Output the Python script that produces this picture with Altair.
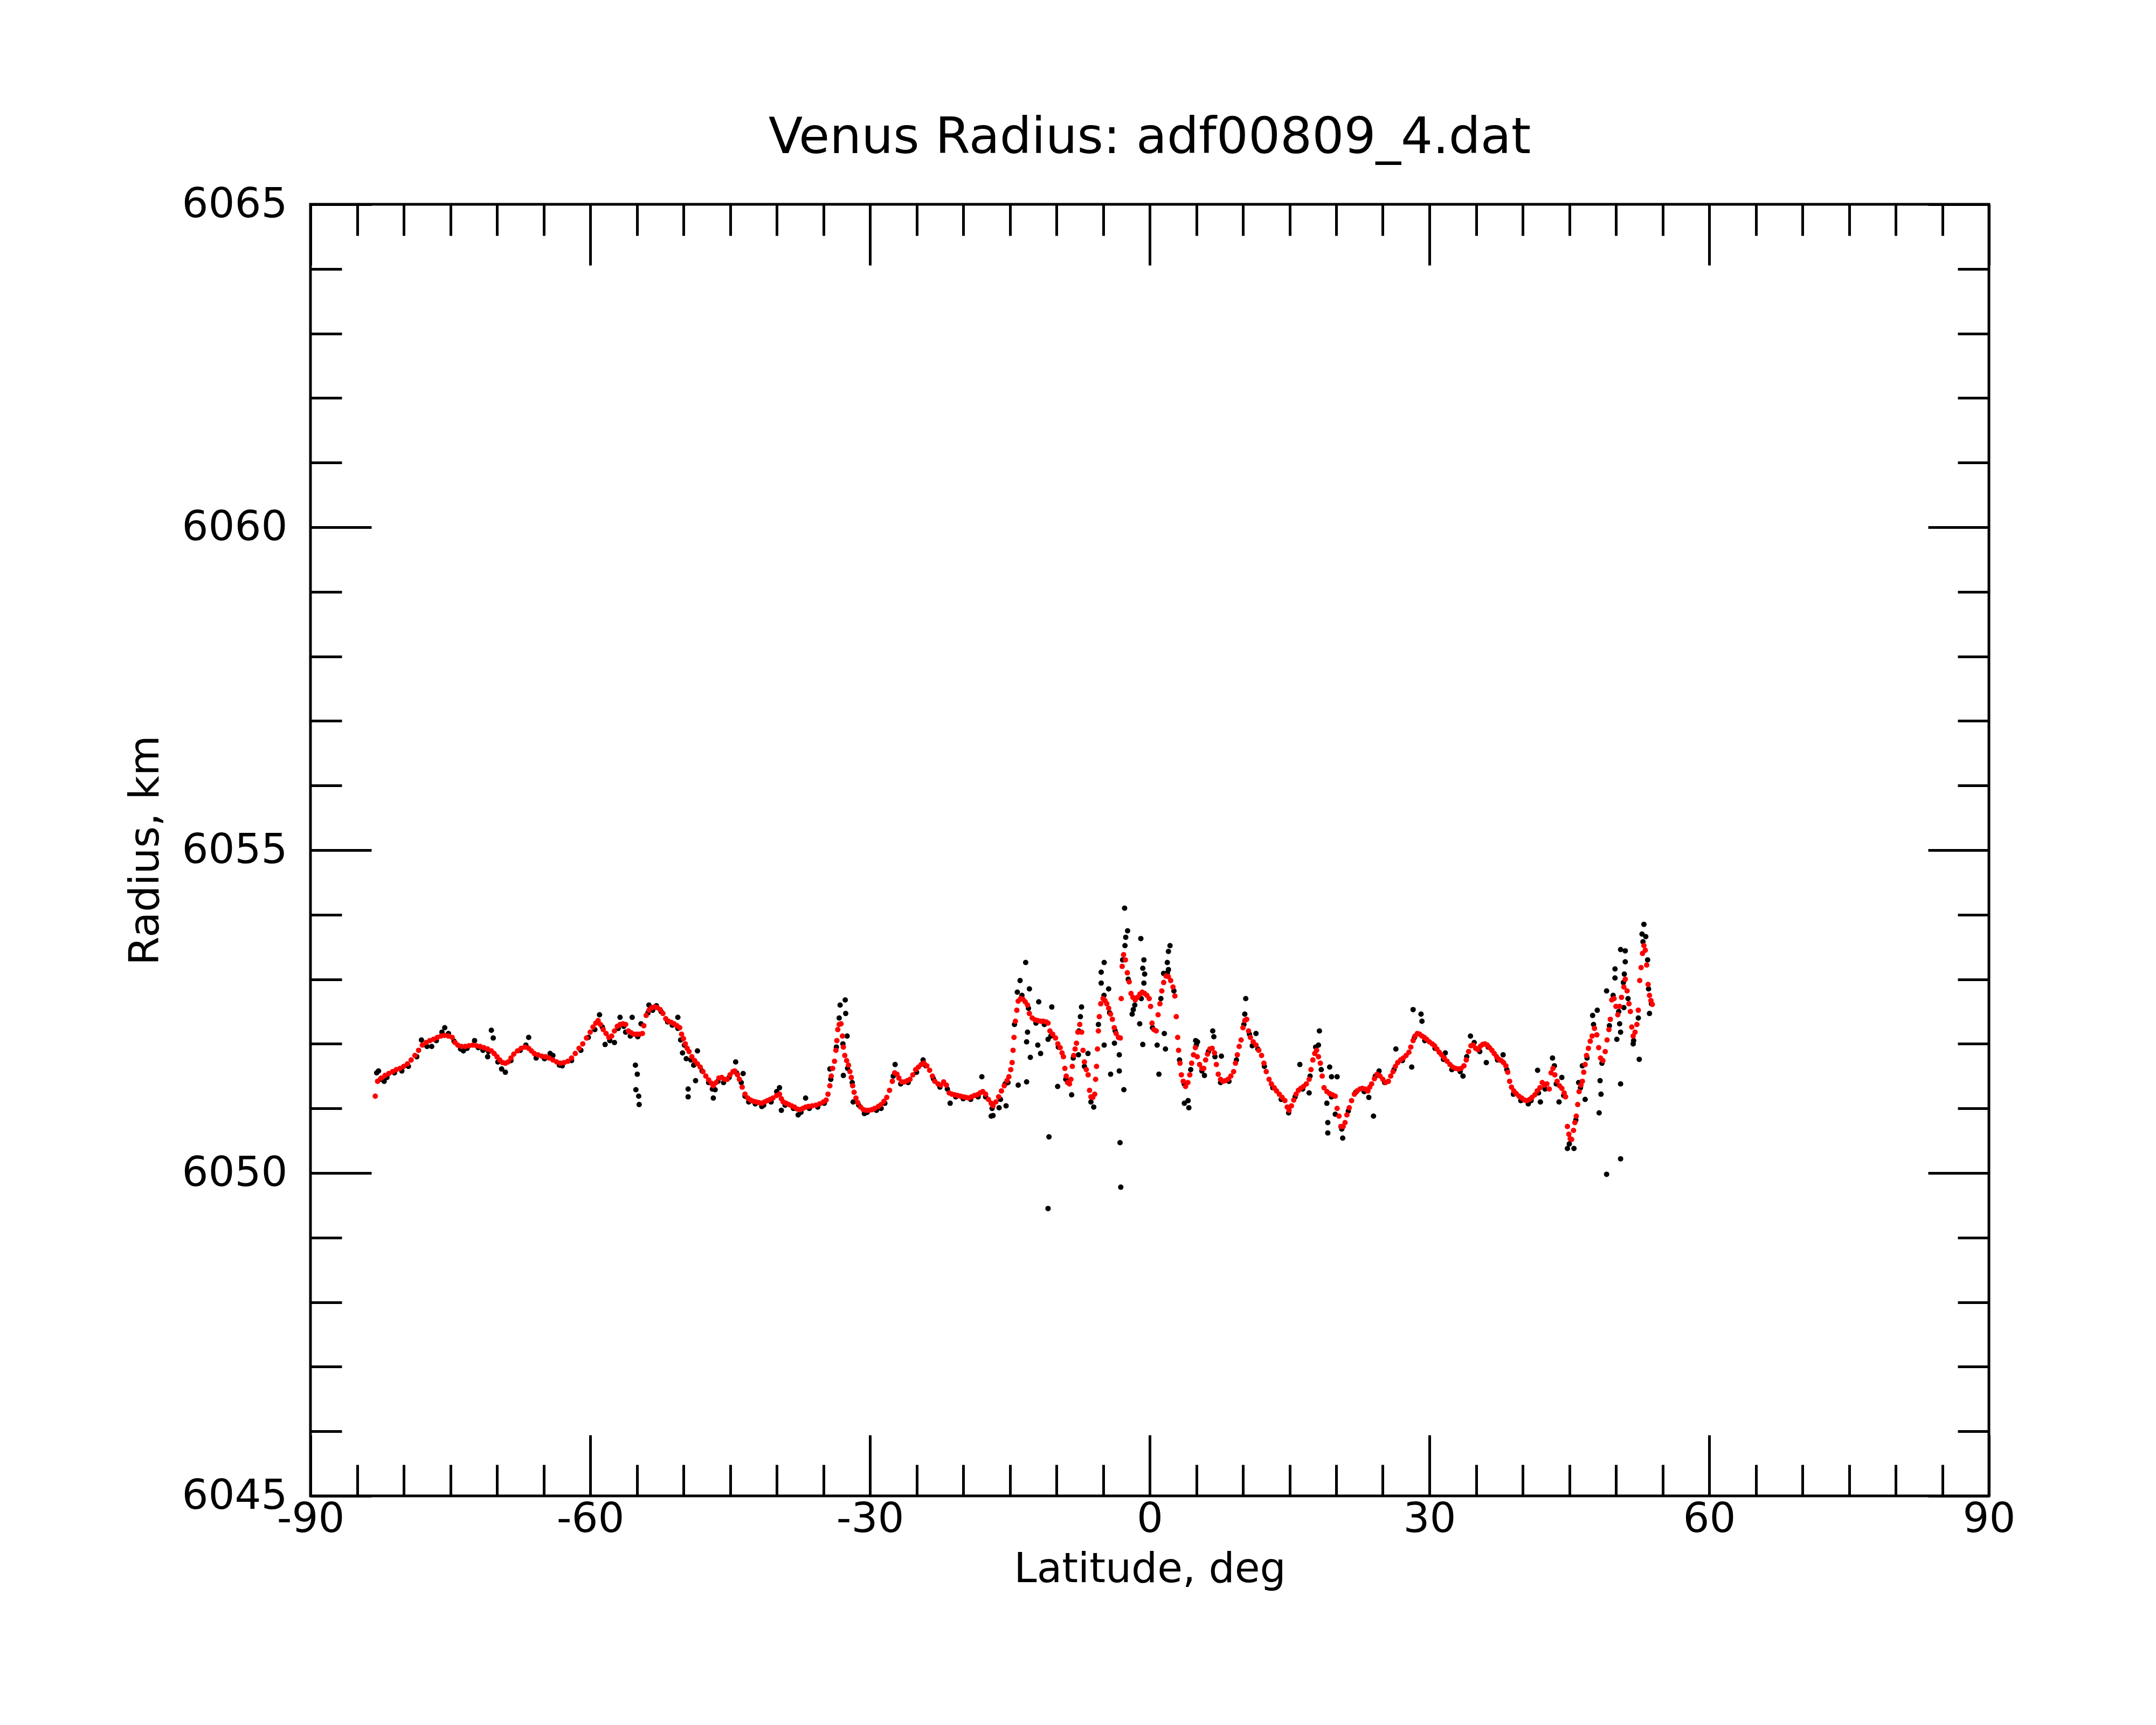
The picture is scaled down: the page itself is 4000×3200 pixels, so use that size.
import altair as alt
import pandas as pd

title_text = "Venus Radius: adf00809_4.dat"
x_title = "Latitude, deg"
y_title = "Radius, km"
x_domain = [-90, 90]
y_domain = [6045, 6065]
x_major = [-90, -60, -30, 0, 30, 60, 90]
x_minor = [-85, -80, -75, -70, -65, -55, -50, -45, -40, -35, -25, -20, -15, -10, -5,
           5, 10, 15, 20, 25, 35, 40, 45, 50, 55, 65, 70, 75, 80, 85]
y_major = [6045, 6050, 6055, 6060, 6065]
y_minor = [6046, 6047, 6048, 6049, 6051, 6052, 6053, 6054, 6056, 6057, 6058, 6059,
           6061, 6062, 6063, 6064]

# smoothed radius (red): (latitude, radius)
red_points = [
    (-83.05, 6051.19), (-82.8, 6051.42), (-82.4, 6051.47), (-82.0, 6051.51), (-81.6, 6051.54),
    (-81.2, 6051.57), (-80.8, 6051.60), (-80.4, 6051.62), (-80.0, 6051.65), (-79.6, 6051.69),
    (-79.2, 6051.75), (-78.8, 6051.82), (-78.4, 6051.90), (-78.0, 6051.98), (-77.6, 6052.02),
    (-77.2, 6052.05), (-76.8, 6052.07), (-76.4, 6052.10), (-76.0, 6052.12), (-75.6, 6052.13),
    (-75.2, 6052.12), (-74.8, 6052.10), (-74.5, 6052.02), (-74.2, 6051.98), (-73.8, 6051.96),
    (-73.4, 6051.96), (-73.0, 6051.97), (-72.6, 6051.98), (-72.2, 6051.97), (-71.8, 6051.96),
    (-71.4, 6051.94), (-71.0, 6051.92), (-70.6, 6051.89), (-70.3, 6051.85), (-70.0, 6051.80),
    (-69.7, 6051.75), (-69.4, 6051.71), (-69.1, 6051.70), (-68.8, 6051.72), (-68.5, 6051.78),
    (-68.2, 6051.84), (-67.8, 6051.89), (-67.4, 6051.93), (-67.0, 6051.95), (-66.6, 6051.93),
    (-66.3, 6051.89), (-66.0, 6051.85), (-65.6, 6051.83), (-65.2, 6051.81), (-64.8, 6051.80),
    (-64.4, 6051.78), (-64.0, 6051.75), (-63.6, 6051.72), (-63.2, 6051.70), (-62.8, 6051.71),
    (-62.4, 6051.73), (-62.0, 6051.78), (-61.6, 6051.85), (-61.2, 6051.93), (-60.8, 6052.00),
    (-60.4, 6052.09), (-60.0, 6052.18), (-59.7, 6052.26), (-59.4, 6052.32), (-59.15, 6052.36),
    (-58.9, 6052.30), (-58.6, 6052.22), (-58.3, 6052.16), (-58.0, 6052.10), (-57.7, 6052.12),
    (-57.4, 6052.20), (-57.1, 6052.27), (-56.8, 6052.30), (-56.5, 6052.31), (-56.2, 6052.30),
    (-55.9, 6052.20), (-55.6, 6052.17), (-55.3, 6052.15), (-55.0, 6052.15), (-54.7, 6052.15),
    (-54.4, 6052.16), (-54.25, 6052.28), (-54.0, 6052.44), (-53.7, 6052.52), (-53.4, 6052.56),
    (-53.1, 6052.57), (-52.8, 6052.56), (-52.5, 6052.53), (-52.2, 6052.47), (-51.9, 6052.39),
    (-51.6, 6052.35), (-51.3, 6052.33), (-51.0, 6052.31), (-50.7, 6052.28), (-50.4, 6052.25),
    (-50.2, 6052.15), (-50.0, 6052.08), (-49.8, 6052.00), (-49.6, 6051.93), (-49.4, 6051.88),
    (-49.1, 6051.80), (-48.8, 6051.74), (-48.5, 6051.69), (-48.2, 6051.64), (-47.9, 6051.57),
    (-47.6, 6051.50), (-47.3, 6051.44), (-47.0, 6051.39), (-46.8, 6051.35), (-46.5, 6051.40),
    (-46.2, 6051.47), (-45.9, 6051.48), (-45.6, 6051.45), (-45.3, 6051.45), (-45.0, 6051.52),
    (-44.7, 6051.57), (-44.5, 6051.58), (-44.2, 6051.52), (-44.0, 6051.45), (-43.7, 6051.33),
    (-43.4, 6051.22), (-43.1, 6051.16), (-42.8, 6051.13), (-42.5, 6051.11), (-42.2, 6051.10),
    (-41.9, 6051.09), (-41.6, 6051.08), (-41.3, 6051.10), (-41.0, 6051.12), (-40.7, 6051.14),
    (-40.4, 6051.16), (-40.0, 6051.20), (-39.7, 6051.22), (-39.5, 6051.15), (-39.3, 6051.10),
    (-39.0, 6051.08), (-38.7, 6051.06), (-38.4, 6051.04), (-38.1, 6051.02), (-37.8, 6050.99),
    (-37.5, 6050.98), (-37.2, 6051.00), (-36.9, 6051.02), (-36.6, 6051.03), (-36.2, 6051.04),
    (-35.8, 6051.05), (-35.4, 6051.07), (-35.0, 6051.10), (-34.7, 6051.13), (-34.5, 6051.22),
    (-34.3, 6051.35), (-34.15, 6051.50), (-34.0, 6051.62), (-33.8, 6051.73), (-33.65, 6051.90),
    (-33.55, 6052.05), (-33.45, 6052.22), (-33.3, 6052.30), (-33.1, 6052.31), (-32.95, 6052.12),
    (-32.85, 6051.95), (-32.7, 6051.82), (-32.5, 6051.74), (-32.3, 6051.67), (-32.15, 6051.57),
    (-32.0, 6051.48), (-31.85, 6051.35), (-31.7, 6051.25), (-31.5, 6051.16), (-31.3, 6051.09),
    (-31.0, 6051.02), (-30.7, 6050.98), (-30.4, 6050.97), (-30.1, 6050.97), (-29.8, 6050.98),
    (-29.5, 6051.00), (-29.1, 6051.03), (-28.8, 6051.06), (-28.5, 6051.11), (-28.2, 6051.17),
    (-27.9, 6051.28), (-27.6, 6051.42), (-27.35, 6051.55), (-27.1, 6051.53), (-26.9, 6051.47),
    (-26.6, 6051.41), (-26.3, 6051.41), (-26.0, 6051.43), (-25.7, 6051.45), (-25.4, 6051.52),
    (-25.1, 6051.60), (-24.8, 6051.64), (-24.5, 6051.68), (-24.2, 6051.70), (-23.9, 6051.66),
    (-23.6, 6051.59), (-23.3, 6051.50), (-23.05, 6051.42), (-22.7, 6051.38), (-22.4, 6051.36),
    (-22.1, 6051.41), (-21.8, 6051.36), (-21.5, 6051.24), (-21.2, 6051.22), (-20.9, 6051.21),
    (-20.6, 6051.20), (-20.3, 6051.19), (-20.0, 6051.18), (-19.7, 6051.17), (-19.4, 6051.16),
    (-19.1, 6051.18), (-18.8, 6051.20), (-18.5, 6051.21), (-18.2, 6051.24), (-17.9, 6051.26),
    (-17.6, 6051.22), (-17.3, 6051.14), (-17.0, 6051.08), (-16.8, 6051.04), (-16.5, 6051.10),
    (-16.2, 6051.18), (-15.9, 6051.27), (-15.6, 6051.35), (-15.3, 6051.43), (-15.1, 6051.49),
    (-14.9, 6051.60), (-14.75, 6051.71), (-14.65, 6051.90), (-14.55, 6052.10), (-14.4, 6052.35),
    (-14.25, 6052.52), (-14.1, 6052.66), (-13.85, 6052.70), (-13.6, 6052.69), (-13.35, 6052.65),
    (-13.1, 6052.60), (-12.9, 6052.47), (-12.6, 6052.40), (-12.3, 6052.37), (-12.0, 6052.36),
    (-11.7, 6052.35), (-11.4, 6052.35), (-11.1, 6052.34), (-10.9, 6052.32), (-10.7, 6052.20),
    (-10.4, 6052.15), (-10.1, 6052.09), (-9.85, 6052.00), (-9.6, 6051.94), (-9.4, 6051.86),
    (-9.25, 6051.80), (-9.1, 6051.62), (-8.95, 6051.50), (-8.8, 6051.40), (-8.6, 6051.38),
    (-8.45, 6051.45), (-8.3, 6051.65), (-8.15, 6051.82), (-8.0, 6051.92), (-7.85, 6052.01),
    (-7.7, 6052.18), (-7.5, 6052.30), (-7.3, 6052.18), (-7.15, 6051.90), (-7.0, 6051.72),
    (-6.8, 6051.60), (-6.6, 6051.52), (-6.45, 6051.28), (-6.3, 6051.18), (-6.1, 6051.17),
    (-5.9, 6051.22), (-5.8, 6051.45), (-5.7, 6051.65), (-5.6, 6051.92), (-5.5, 6052.20),
    (-5.4, 6052.42), (-5.25, 6052.62), (-5.0, 6052.70), (-4.8, 6052.67), (-4.6, 6052.62),
    (-4.4, 6052.55), (-4.2, 6052.46), (-4.0, 6052.38), (-3.8, 6052.25), (-3.6, 6052.16),
    (-3.35, 6052.10), (-3.15, 6052.09), (-3.05, 6052.70), (-2.95, 6053.20), (-2.8, 6053.38),
    (-2.6, 6053.30), (-2.4, 6053.10), (-2.2, 6052.96), (-2.0, 6052.78), (-1.8, 6052.72),
    (-1.55, 6052.68), (-1.3, 6052.72), (-1.05, 6052.77), (-0.8, 6052.80), (-0.55, 6052.78),
    (-0.3, 6052.75), (-0.05, 6052.70), (0.1, 6052.58), (0.25, 6052.32), (0.45, 6052.22),
    (0.7, 6052.20), (0.9, 6052.45), (1.1, 6052.62), (1.3, 6052.82), (1.5, 6052.95),
    (1.75, 6053.05), (2.0, 6053.04), (2.25, 6052.98), (2.5, 6052.88), (2.7, 6052.74),
    (2.85, 6052.42), (3.0, 6052.10), (3.1, 6051.90), (3.25, 6051.70), (3.4, 6051.52),
    (3.6, 6051.42), (3.85, 6051.34), (4.1, 6051.40), (4.3, 6051.52), (4.5, 6051.70),
    (4.7, 6051.83), (4.9, 6051.94), (5.1, 6051.80), (5.35, 6051.68), (5.6, 6051.62),
    (5.8, 6051.62), (6.0, 6051.75), (6.2, 6051.84), (6.45, 6051.92), (6.7, 6051.93),
    (6.95, 6051.86), (7.15, 6051.68), (7.35, 6051.53), (7.6, 6051.45), (7.85, 6051.42),
    (8.1, 6051.43), (8.4, 6051.45), (8.7, 6051.50), (9.0, 6051.57), (9.2, 6051.70),
    (9.4, 6051.83), (9.6, 6051.96), (9.8, 6052.06), (10.0, 6052.25), (10.2, 6052.36),
    (10.4, 6052.38), (10.6, 6052.20), (10.8, 6052.10), (11.1, 6052.03), (11.4, 6051.98),
    (11.7, 6051.90), (12.0, 6051.82), (12.25, 6051.70), (12.5, 6051.57), (12.8, 6051.45),
    (13.05, 6051.38), (13.35, 6051.32), (13.6, 6051.27), (13.9, 6051.22), (14.2, 6051.17),
    (14.5, 6051.12), (14.75, 6051.02), (14.95, 6050.97), (15.2, 6051.04), (15.45, 6051.13),
    (15.7, 6051.22), (15.95, 6051.28), (16.2, 6051.31), (16.5, 6051.34), (16.8, 6051.38),
    (17.1, 6051.45), (17.3, 6051.60), (17.5, 6051.75), (17.7, 6051.85), (17.9, 6051.90),
    (18.1, 6051.80), (18.3, 6051.70), (18.5, 6051.50), (18.7, 6051.32), (19.0, 6051.26),
    (19.3, 6051.23), (19.6, 6051.21), (19.9, 6051.19), (20.1, 6051.00), (20.3, 6050.88),
    (20.5, 6050.72), (20.75, 6050.72), (20.95, 6050.78), (21.15, 6050.90), (21.4, 6051.01),
    (21.65, 6051.12), (21.95, 6051.22), (22.25, 6051.27), (22.55, 6051.30), (22.8, 6051.31),
    (23.1, 6051.30), (23.4, 6051.27), (23.6, 6051.33), (23.8, 6051.38), (24.1, 6051.46),
    (24.4, 6051.53), (24.7, 6051.50), (25.0, 6051.45), (25.3, 6051.40), (25.6, 6051.42),
    (25.85, 6051.50), (26.1, 6051.57), (26.35, 6051.65), (26.6, 6051.71), (26.9, 6051.75),
    (27.2, 6051.78), (27.5, 6051.82), (27.8, 6051.87), (28.0, 6051.95), (28.25, 6052.05),
    (28.45, 6052.12), (28.7, 6052.16), (28.95, 6052.15), (29.2, 6052.12), (29.45, 6052.10),
    (29.7, 6052.07), (30.0, 6052.03), (30.3, 6052.00), (30.55, 6051.97), (30.8, 6051.92),
    (31.05, 6051.87), (31.3, 6051.83), (31.6, 6051.78), (31.9, 6051.73), (32.2, 6051.68),
    (32.5, 6051.64), (32.8, 6051.62), (33.1, 6051.61), (33.4, 6051.62), (33.7, 6051.66),
    (33.95, 6051.75), (34.2, 6051.88), (34.45, 6051.97), (34.7, 6051.98), (34.95, 6051.93),
    (35.2, 6051.91), (35.45, 6051.96), (35.7, 6051.99), (35.95, 6052.00), (36.2, 6051.98),
    (36.45, 6051.94), (36.7, 6051.90), (36.95, 6051.85), (37.2, 6051.80), (37.45, 6051.76),
    (37.7, 6051.74), (37.95, 6051.71), (38.2, 6051.66), (38.4, 6051.56), (38.6, 6051.42),
    (38.8, 6051.33), (39.05, 6051.27), (39.3, 6051.23), (39.6, 6051.19), (39.9, 6051.16),
    (40.2, 6051.13), (40.45, 6051.12), (40.75, 6051.14), (41.0, 6051.17), (41.3, 6051.21),
    (41.55, 6051.27), (41.85, 6051.32), (42.1, 6051.40), (42.35, 6051.36), (42.6, 6051.38),
    (42.85, 6051.30), (43.05, 6051.55), (43.25, 6051.62), (43.45, 6051.52), (43.7, 6051.42),
    (43.95, 6051.35), (44.2, 6051.31), (44.45, 6051.24), (44.6, 6051.18), (44.8, 6050.72),
    (44.95, 6050.60), (45.1, 6050.53), (45.25, 6050.52), (45.45, 6050.66), (45.6, 6050.78),
    (45.75, 6050.88), (45.9, 6051.06), (46.05, 6051.26), (46.25, 6051.36), (46.4, 6051.42),
    (46.55, 6051.56), (46.7, 6051.68), (46.85, 6051.82), (47.05, 6051.93), (47.25, 6052.04),
    (47.45, 6052.12), (47.7, 6052.24), (47.95, 6052.14), (48.15, 6051.94), (48.35, 6051.78),
    (48.6, 6051.74), (48.85, 6051.88), (49.05, 6052.06), (49.25, 6052.22), (49.4, 6052.38),
    (49.55, 6052.68), (49.8, 6052.70), (50.0, 6052.58), (50.2, 6052.45), (50.4, 6052.58),
    (50.6, 6052.72), (50.85, 6052.88), (51.0, 6053.00), (51.2, 6052.82), (51.4, 6052.62),
    (51.55, 6052.50), (51.7, 6052.26), (51.85, 6052.12), (52.05, 6052.18), (52.25, 6052.30),
    (52.4, 6052.52), (52.55, 6052.98), (52.7, 6053.18), (52.85, 6053.40), (53.0, 6053.52),
    (53.15, 6053.45), (53.3, 6053.22), (53.45, 6052.92), (53.6, 6052.75), (53.75, 6052.67),
    (53.9, 6052.61),
]

black_points = [
    # southern part
    (-82.9, 6051.55), (-82.7, 6051.58), (-82.5, 6051.45), (-82.1, 6051.42), (-81.8, 6051.48),
    (-81.0, 6051.55), (-80.2, 6051.58), (-79.5, 6051.65), (-78.6, 6051.80), (-78.1, 6052.06),
    (-77.5, 6051.96), (-77.0, 6051.96), (-76.5, 6052.05), (-75.9, 6052.18), (-75.6, 6052.25),
    (-75.2, 6052.16), (-74.6, 6052.04), (-73.9, 6051.92), (-73.6, 6051.89), (-73.2, 6051.93),
    (-72.4, 6052.05), (-72.0, 6051.94), (-71.5, 6051.90), (-71.0, 6051.80), (-70.9, 6051.88),
    (-70.6, 6052.21), (-70.4, 6052.09), (-69.9, 6051.72), (-69.5, 6051.61), (-69.1, 6051.56),
    (-68.5, 6051.74), (-67.5, 6051.90), (-66.9, 6051.98), (-66.6, 6052.10), (-65.8, 6051.78),
    (-64.9, 6051.77), (-64.3, 6051.85), (-64.0, 6051.82), (-63.3, 6051.67), (-63.0, 6051.66),
    (-62.0, 6051.74), (-61.0, 6051.90), (-60.2, 6052.10), (-59.5, 6052.22), (-59.0, 6052.45),
    (-58.7, 6052.26), (-58.4, 6051.99), (-57.9, 6052.05), (-57.4, 6052.02), (-57.0, 6052.24),
    (-56.8, 6052.41), (-56.4, 6052.27), (-56.2, 6052.18), (-55.7, 6052.12), (-55.5, 6052.41),
    (-55.15, 6051.67), (-55.1, 6051.29), (-54.95, 6051.53), (-54.9, 6052.11), (-54.8, 6051.19),
    (-54.75, 6051.06), (-54.55, 6052.31), (-53.8, 6052.48), (-53.7, 6052.60), (-53.3, 6052.52),
    (-52.9, 6052.59), (-52.4, 6052.50), (-51.7, 6052.34), (-51.2, 6052.29), (-50.6, 6052.41),
    (-50.6, 6052.24), (-50.3, 6052.06), (-50.1, 6051.86), (-49.9, 6051.98), (-49.7, 6051.77),
    (-49.5, 6051.30), (-49.5, 6051.18), (-49.2, 6051.75), (-48.9, 6051.67), (-48.7, 6051.43),
    (-48.7, 6051.70), (-48.5, 6051.89), (-48.0, 6051.58), (-47.3, 6051.40), (-46.9, 6051.30),
    (-46.8, 6051.16), (-46.6, 6051.29), (-46.3, 6051.42), (-45.7, 6051.40), (-45.1, 6051.48),
    (-44.4, 6051.72), (-44.3, 6051.55), (-43.8, 6051.40), (-43.6, 6051.54), (-43.4, 6051.19),
    (-43.0, 6051.10), (-42.3, 6051.07), (-41.6, 6051.03), (-41.4, 6051.05), (-40.6, 6051.10),
    (-40.0, 6051.26), (-39.7, 6051.32), (-39.5, 6050.97), (-39.1, 6051.05), (-38.2, 6051.00),
    (-37.7, 6050.90), (-37.4, 6050.94), (-36.9, 6051.16), (-36.5, 6051.00), (-35.6, 6051.02),
    (-34.9, 6051.08), (-34.3, 6051.61), (-34.2, 6051.45), (-33.6, 6051.95), (-33.3, 6052.40),
    (-33.2, 6052.60), (-32.9, 6052.00), (-32.85, 6051.51), (-32.65, 6052.68), (-32.6, 6052.47),
    (-32.45, 6052.12), (-32.4, 6051.62), (-31.9, 6051.40), (-31.8, 6051.10), (-31.2, 6051.05),
    (-30.6, 6050.92), (-30.3, 6050.94), (-29.3, 6050.97), (-28.9, 6051.01), (-28.8, 6051.00),
    (-28.4, 6051.08),
    # equatorial part
    (-27.5, 6051.50), (-27.3, 6051.68), (-26.7, 6051.38), (-25.9, 6051.40), (-25.0, 6051.56),
    (-24.3, 6051.75), (-24.0, 6051.66), (-23.2, 6051.46), (-22.5, 6051.33), (-21.7, 6051.30),
    (-21.4, 6051.08), (-20.8, 6051.18), (-20.0, 6051.15), (-19.2, 6051.14), (-18.4, 6051.18),
    (-18.0, 6051.49), (-17.6, 6051.18), (-17.0, 6050.88), (-16.9, 6051.00), (-16.8, 6050.89),
    (-16.15, 6051.01), (-16.0, 6051.14), (-15.5, 6051.38), (-15.4, 6051.04), (-15.2, 6051.40),
    (-14.5, 6052.30), (-14.2, 6052.80), (-14.1, 6051.36), (-13.9, 6052.98), (-13.7, 6052.75),
    (-13.3, 6053.26), (-13.2, 6052.03), (-13.2, 6051.41), (-13.1, 6052.18), (-13.0, 6052.55),
    (-12.9, 6052.85), (-12.8, 6051.79), (-12.2, 6052.32), (-12.0, 6051.98), (-11.9, 6052.65),
    (-11.7, 6051.85), (-11.3, 6052.30), (-10.9, 6052.07), (-10.9, 6049.45), (-10.8, 6050.56),
    (-10.6, 6052.12), (-10.5, 6052.57), (-9.87, 6051.34), (-9.8, 6051.95), (-9.0, 6051.45),
    (-8.37, 6051.21), (-8.2, 6051.78), (-7.64, 6051.83), (-7.6, 6052.20), (-7.43, 6052.42),
    (-7.31, 6052.57), (-7.0, 6051.65), (-6.62, 6051.85), (-6.3, 6051.10), (-6.0, 6051.02),
    (-5.5, 6052.30), (-5.2, 6053.11), (-5.2, 6052.94), (-4.9, 6052.75), (-4.88, 6053.26),
    (-4.88, 6051.98), (-4.4, 6052.85), (-4.3, 6052.48), (-4.19, 6051.53), (-3.78, 6052.01),
    (-3.7, 6052.20), (-3.26, 6051.83), (-3.26, 6051.58), (-3.18, 6050.47), (-3.1, 6049.78),
    (-2.9, 6053.30), (-2.77, 6051.29), (-2.69, 6054.10), (-2.65, 6053.52), (-2.57, 6053.65),
    (-2.37, 6053.75), (-2.3, 6053.00), (-1.88, 6052.46), (-1.76, 6052.53), (-1.6, 6052.60),
    (-1.07, 6052.31), (-0.95, 6053.63), (-0.9, 6052.70), (-0.74, 6053.17), (-0.74, 6051.99),
    (-0.62, 6053.30), (-0.62, 6052.94), (-0.54, 6053.08), (0.3, 6052.25), (0.8, 6051.98),
    (0.99, 6051.53), (1.2, 6052.70), (1.49, 6053.09), (1.57, 6052.16), (1.69, 6051.92),
    (1.89, 6053.26), (1.9, 6053.10), (2.01, 6053.43), (2.01, 6053.15), (2.18, 6053.52),
    (2.6, 6052.82), (3.2, 6051.75), (3.7, 6051.38), (3.72, 6051.08), (4.12, 6051.12),
    (4.2, 6051.01), (4.4, 6051.60), (4.93, 6052.05), (5.0, 6051.98), (5.13, 6052.03),
    (5.6, 6051.58), (5.87, 6051.51), (6.3, 6051.88), (6.76, 6052.20), (6.88, 6052.11),
    (7.0, 6051.80), (7.6, 6051.40), (7.69, 6051.81), (8.5, 6051.42), (9.3, 6051.75),
    (10.1, 6052.30), (10.2, 6052.46), (10.3, 6052.70), (10.7, 6052.15), (11.0, 6051.97),
    (11.4, 6052.16), (11.6, 6051.92), (12.3, 6051.65), (13.2, 6051.32), (14.1, 6051.14),
    (14.9, 6050.93), (15.6, 6051.18), (16.1, 6051.68), (16.4, 6051.30), (17.1, 6051.24),
    (17.2, 6051.50), (17.8, 6051.95), (18.1, 6051.98), (18.2, 6052.20), (18.4, 6051.60),
    (19.0, 6051.08), (19.1, 6050.78), (19.1, 6050.62), (19.3, 6051.64), (19.5, 6051.49),
    (19.5, 6051.18), (19.9, 6050.91), (20.1, 6051.49), (20.6, 6050.68), (20.7, 6050.54),
    (21.3, 6050.96), (22.1, 6051.25), (23.0, 6051.26), (23.5, 6051.17), (24.0, 6050.88),
    (24.2, 6051.50), (24.6, 6051.58), (25.2, 6051.40), (26.2, 6051.60), (26.4, 6051.92),
    (27.1, 6051.74), (28.1, 6051.64), (28.25, 6052.53), (28.4, 6052.10), (29.1, 6052.46),
    (29.2, 6052.35), (29.5, 6052.05), (30.6, 6051.93), (31.5, 6051.76), (31.7, 6051.86),
    (32.4, 6051.60),
    # northern part
    (33.3, 6051.57), (33.6, 6051.50), (34.0, 6051.80), (34.4, 6052.12), (34.8, 6052.02),
    (35.4, 6051.88), (36.1, 6051.71), (36.3, 6051.95), (37.3, 6051.75), (37.9, 6051.83),
    (38.3, 6051.60), (39.0, 6051.22), (39.8, 6051.12), (40.6, 6051.07), (40.9, 6051.12),
    (41.6, 6051.59), (41.7, 6051.24), (41.9, 6051.10), (42.4, 6051.30), (43.2, 6051.78),
    (43.4, 6051.66), (43.6, 6051.38), (43.9, 6051.10), (44.2, 6051.48), (44.4, 6051.20),
    (44.8, 6050.38), (45.0, 6050.45), (45.5, 6050.38), (45.7, 6050.82), (46.0, 6051.40),
    (46.2, 6051.32), (46.4, 6051.66), (46.7, 6051.14), (46.9, 6051.78), (47.5, 6052.44),
    (47.6, 6052.30), (48.0, 6052.52), (48.2, 6050.93), (48.3, 6051.43), (48.4, 6051.22),
    (48.5, 6051.70), (49.0, 6049.98), (49.0, 6052.82), (49.3, 6052.28), (49.7, 6052.75),
    (49.9, 6053.16), (49.9, 6053.02), (50.1, 6052.07), (50.3, 6052.50), (50.4, 6052.31),
    (50.5, 6053.46), (50.5, 6052.18), (50.5, 6051.38), (50.5, 6050.22), (50.8, 6052.95),
    (50.85, 6052.56), (50.9, 6053.08), (51.0, 6053.44), (51.0, 6053.27), (51.3, 6052.70),
    (51.85, 6052.00), (51.9, 6052.05), (52.4, 6052.40), (52.5, 6051.76), (52.8, 6053.70),
    (52.9, 6053.58), (53.0, 6053.85), (53.2, 6053.66), (53.4, 6053.30), (53.5, 6052.85),
    (53.6, 6052.47), (53.8, 6052.62),
]

red = pd.DataFrame(red_points, columns=["lat", "r"])
black = pd.DataFrame(black_points, columns=["lat", "r"])

FONT = "DejaVu Sans"
TICK_FS = 77
LABEL_EXPR = "'' + datum.value"
MAJOR = 113
MINOR = 58
W = 3114
H = 2396
DOT = 100

xs = alt.Scale(domain=x_domain, nice=False, zero=False)
ys = alt.Scale(domain=y_domain, nice=False, zero=False)


def tick_axis(orient, size, values):
    return alt.Axis(orient=orient, offset=-size, tickSize=size, values=values,
                    labels=False, title=None, domain=False, grid=False,
                    ticks=True, tickColor="black", tickWidth=5)


x_main = alt.Axis(orient="bottom", offset=-MAJOR, tickSize=MAJOR, values=x_major,
                  labels=True, labelExpr=LABEL_EXPR, labelFont=FONT,
                  labelFontSize=TICK_FS, labelColor="black", labelPadding=5,
                  labelFlush=False, labelOverlap=False, labelBound=False, labelLimit=600,
                  title=x_title, titleFont=FONT, titleFontSize=76,
                  titleFontWeight="normal", titleColor="black",
                  titleX=W / 2, titleY=272, titleAlign="center", titleBaseline="alphabetic",
                  titleAngle=0,
                  domain=False, grid=False, ticks=True, tickColor="black", tickWidth=5)
y_main = alt.Axis(orient="left", offset=-MAJOR, tickSize=MAJOR, values=y_major,
                  labels=True, labelExpr=LABEL_EXPR, labelFont=FONT,
                  labelFontSize=TICK_FS, labelColor="black", labelPadding=43,
                  labelFlush=False, labelOverlap=False, labelBound=False, labelLimit=600,
                  title=y_title, titleFont=FONT, titleFontSize=77,
                  titleFontWeight="normal", titleColor="black",
                  titleX=-396, titleY=H / 2, titleAlign="center", titleBaseline="alphabetic",
                  titleAngle=270,
                  domain=False, grid=False, ticks=True, tickColor="black", tickWidth=5)

raw_layer = alt.Chart(black).mark_circle(size=DOT, color="black", opacity=1).encode(
    x=alt.X("lat:Q", scale=xs, axis=x_main),
    y=alt.Y("r:Q", scale=ys, axis=y_main),
)
smooth_layer = alt.Chart(red).mark_circle(size=DOT, color="#ff0000", opacity=1).encode(
    x=alt.X("lat:Q", scale=xs, axis=tick_axis("bottom", MINOR, x_minor)),
    y=alt.Y("r:Q", scale=ys, axis=tick_axis("left", MINOR, y_minor)),
)
frame_major = alt.Chart(red).mark_circle(size=1, opacity=0).encode(
    x=alt.X("lat:Q", scale=xs, axis=tick_axis("top", MAJOR, x_major)),
    y=alt.Y("r:Q", scale=ys, axis=tick_axis("right", MAJOR, y_major)),
)
frame_minor = alt.Chart(red).mark_circle(size=1, opacity=0).encode(
    x=alt.X("lat:Q", scale=xs, axis=tick_axis("top", MINOR, x_minor)),
    y=alt.Y("r:Q", scale=ys, axis=tick_axis("right", MINOR, y_minor)),
)

chart = alt.layer(raw_layer, smooth_layer, frame_major, frame_minor).resolve_axis(
    x="independent", y="independent"
).properties(
    width=W,
    height=H,
    padding={"left": 223, "top": 202, "right": 60, "bottom": 60},
    background="white",
    title=alt.TitleParams(text=title_text, font=FONT, fontSize=93, fontWeight="normal",
                          color="black", anchor="middle", baseline="alphabetic", offset=-37),
).configure_view(stroke="black", strokeWidth=5)

chart.save("out.html", embed_options={"renderer": "svg", "actions": False})
